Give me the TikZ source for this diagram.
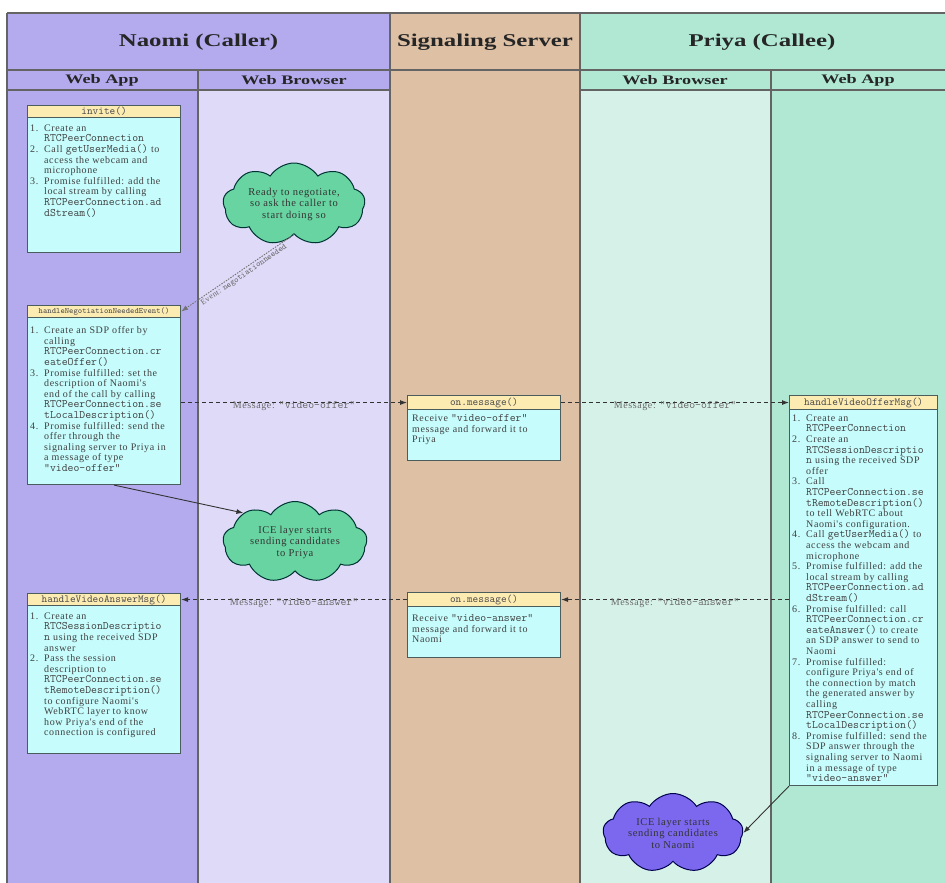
\documentclass[tikz,border=0pt]{standalone}
\usepackage{graphicx}
\usepackage{fontspec}
\setmainfont{Liberation Serif}
\newfontfamily\bodyserif[LetterSpace=6]{Liberation Serif}
\newfontfamily\titlefont{Liberation Serif}
\usetikzlibrary{shapes.symbols,arrows.meta,calc}
\definecolor{naomi}{RGB}{180,171,238}
\definecolor{naomilt}{RGB}{222,218,248}
\definecolor{sig}{RGB}{222,192,164}
\definecolor{priya}{RGB}{176,232,212}
\definecolor{priyalt}{RGB}{214,242,232}
\definecolor{hdr}{RGB}{253,236,178}
\definecolor{bodyc}{RGB}{198,252,252}
\definecolor{boxline}{RGB}{75,92,92}
\definecolor{laneline}{RGB}{100,100,100}
\definecolor{cloudg}{RGB}{104,212,162}
\definecolor{cloudp}{RGB}{123,104,238}
\definecolor{msgc}{RGB}{105,105,105}
\newcommand\cd[1]{{\ttfamily\fontsize{11.4}{10.6}\selectfont #1}}
\newcommand\nitem[2]{\makebox[14pt][l]{#1}#2}
\newcommand\contl[1]{\hspace*{14pt}#1}
\newcommand\ttlx[1]{\scalebox{1.38}[1]{#1}}
\newcommand\subx[1]{\scalebox{1.4}[1]{#1}}
\begin{document}
\begin{tikzpicture}[x=1pt,y=-1pt,
  lanel/.style={draw=laneline, line width=1.3pt},
  title/.style={inner sep=0pt, text=black!85, font={\titlefont\bfseries\fontsize{18}{20}\selectfont}},
  subtitle/.style={inner sep=0pt, text=black!85, font={\titlefont\bfseries\fontsize{13}{15}\selectfont}},
  hbox/.style={draw=boxline, line width=1.1pt, fill=hdr, anchor=north west, inner sep=0pt, text=black!70, font={\ttfamily\fontsize{10.8}{11}\selectfont}},
  bbox/.style={draw=boxline, line width=1.1pt, fill=bodyc, anchor=north west, inner sep=0pt},
  btext/.style={anchor=north west, inner sep=0pt, align=left, text=black!75, font={\bodyserif\fontsize{10}{10.6}\selectfont}},
  cloudst/.style={cloud, cloud puffs=9, cloud puff arc=115, cloud ignores aspect, line width=1pt, align=center, inner sep=0pt, text=black!80, font={\bodyserif\fontsize{10.5}{11.5}\selectfont}},
  msg/.style={draw=black!80, line width=0.9pt, dash pattern=on 4pt off 3pt, -{Latex[length=7pt,width=5pt]}},
  msglab/.style={anchor=north, yshift=2pt, inner sep=0pt, text=msgc, font={\bodyserif\fontsize{10}{11}\selectfont}},
  solidarr/.style={draw=black!80, line width=0.9pt, -{Latex[length=7pt,width=5pt]}},
  evarr/.style={draw=black!55, line width=0.9pt, dash pattern=on 1.5pt off 1.2pt, -{Latex[length=7pt,width=5pt]}}
]
\useasboundingbox (0,0) rectangle (945,883);
\fill[white] (0,0) rectangle (945,883);
% lanes
\fill[naomi] (7,13) rectangle (390,90);
\fill[naomi] (7,90) rectangle (198,890);
\fill[naomilt] (198,90) rectangle (390,890);
\fill[sig] (390,13) rectangle (580,890);
\fill[priya] (580,13) rectangle (945,90);
\fill[priyalt] (580,90) rectangle (771,890);
\fill[priya] (771,90) rectangle (945,890);
\draw[lanel] (7,13) -- (945,13);
\draw[lanel] (7,70) -- (945,70);
\draw[lanel] (7,90) -- (390,90);
\draw[lanel] (580,90) -- (945,90);
\draw[lanel] (7,13) -- (7,890);
\draw[lanel] (198,70) -- (198,890);
\draw[lanel] (390,13) -- (390,890);
\draw[lanel] (580,13) -- (580,890);
\draw[lanel] (771,70) -- (771,890);
% titles
\node[title] (tNaomi) at (198.5,42) {\ttlx{Naomi (Caller)}};
\node[title] (tSig) at (485,42) {\ttlx{Signaling Server}};
\node[title] (tPriya) at (762,42) {\ttlx{Priya (Callee)}};
\node[subtitle] (sNA) at (102,80) {\subx{Web App}};
\node[subtitle] (sNB) at (294,80) {\subx{Web Browser}};
\node[subtitle] (sPB) at (675,80) {\subx{Web Browser}};
\node[subtitle] (sPA) at (858,80) {\subx{Web App}};
% invite box
\node[bbox, minimum width=153pt, minimum height=135pt] (inv) at (27,117) {};
\node[hbox, minimum width=153pt, minimum height=12pt] (invh) at (27,105) {invite()};
\node[btext] (invt) at (30,124.5) {%
\nitem{1.}{Create an}\\
\contl{\cd{RTCPeerConnection}}\\
\nitem{2.}{Call \cd{getUserMedia()} to}\\
\contl{access the webcam and}\\
\contl{microphone}\\
\nitem{3.}{Promise fulfilled: add the}\\
\contl{local stream by calling}\\
\contl{\cd{RTCPeerConnection.ad}}\\
\contl{\cd{dStream()}}};
% negotiation box
\node[bbox, minimum width=153pt, minimum height=167pt] (hnne) at (27,317) {};
\node[hbox, minimum width=153pt, minimum height=12pt, font={\ttfamily\fontsize{8.2}{9}\selectfont}] (hnneh) at (27,305) {handleNegotiationNeededEvent()};
\node[btext] (hnnet) at (30,326.5) {%
\nitem{1.}{Create an SDP offer by}\\
\contl{calling}\\
\contl{\cd{RTCPeerConnection.cr}}\\
\contl{\cd{eateOffer()}}\\
\nitem{3.}{Promise fulfilled: set the}\\
\contl{description of Naomi's}\\
\contl{end of the call by calling}\\
\contl{\cd{RTCPeerConnection.se}}\\
\contl{\cd{tLocalDescription()}}\\
\nitem{4.}{Promise fulfilled: send the}\\
\contl{offer through the}\\
\contl{signaling server to Priya in}\\
\contl{a message of type}\\
\contl{\cd{"video-offer"}}};
% answer box (Naomi)
\node[bbox, minimum width=153pt, minimum height=148pt] (hvam) at (27,605) {};
\node[hbox, minimum width=153pt, minimum height=12pt] (hvamh) at (27,593) {handleVideoAnswerMsg()};
\node[btext] (hvamt) at (30,612.5) {%
\nitem{1.}{Create an}\\
\contl{\cd{RTCSessionDescriptio}}\\
\contl{\cd{n} using the received SDP}\\
\contl{answer}\\
\nitem{2.}{Pass the session}\\
\contl{description to}\\
\contl{\cd{RTCPeerConnection.se}}\\
\contl{\cd{tRemoteDescription()}}\\
\contl{to configure Naomi's}\\
\contl{WebRTC layer to know}\\
\contl{how Priya's end of the}\\
\contl{connection is configured}};
% on.message boxes
\node[bbox, minimum width=153pt, minimum height=51pt] (om1) at (407,409) {};
\node[hbox, minimum width=153pt, minimum height=14pt] (om1h) at (407,395) {on.message()};
\node[btext] (om1t) at (412,414.5) {%
Receive \cd{"video-offer"}\\
message and forward it to\\
Priya};
\node[bbox, minimum width=153pt, minimum height=51pt] (om2) at (407,606) {};
\node[hbox, minimum width=153pt, minimum height=14pt] (om2h) at (407,592) {on.message()};
\node[btext] (om2t) at (412,614.5) {%
Receive \cd{"video-answer"}\\
message and forward it to\\
Naomi};
% offer handler box (Priya)
\node[bbox, minimum width=148pt, minimum height=376pt] (hvom) at (789,409) {};
\node[hbox, minimum width=148pt, minimum height=14pt] (hvomh) at (789,395) {handleVideoOfferMsg()};
\node[btext] (hvomt) at (792,414.5) {%
\nitem{1.}{Create an}\\
\contl{\cd{RTCPeerConnection}}\\
\nitem{2.}{Create an}\\
\contl{\cd{RTCSessionDescriptio}}\\
\contl{\cd{n} using the received SDP}\\
\contl{offer}\\
\nitem{3.}{Call}\\
\contl{\cd{RTCPeerConnection.se}}\\
\contl{\cd{tRemoteDescription()}}\\
\contl{to tell WebRTC about}\\
\contl{Naomi's configuration.}\\
\nitem{4.}{Call \cd{getUserMedia()} to}\\
\contl{access the webcam and}\\
\contl{microphone}\\
\nitem{5.}{Promise fulfilled: add the}\\
\contl{local stream by calling}\\
\contl{\cd{RTCPeerConnection.ad}}\\
\contl{\cd{dStream()}}\\
\nitem{6.}{Promise fulfilled: call}\\
\contl{\cd{RTCPeerConnection.cr}}\\
\contl{\cd{eateAnswer()} to create}\\
\contl{an SDP answer to send to}\\
\contl{Naomi}\\
\nitem{7.}{Promise fulfilled:}\\
\contl{configure Priya's end of}\\
\contl{the connection by match}\\
\contl{the generated answer by}\\
\contl{calling}\\
\contl{\cd{RTCPeerConnection.se}}\\
\contl{\cd{tLocalDescription()}}\\
\nitem{8.}{Promise fulfilled: send the}\\
\contl{SDP answer through the}\\
\contl{signaling server to Naomi}\\
\contl{in a message of type}\\
\contl{\cd{"video-answer"}}};
% clouds
\node[cloudst, fill=cloudg, draw=black!60!teal, minimum width=142pt, minimum height=82pt] (ready) at (294,204) {Ready to negotiate,\\so ask the caller to\\start doing so};
\node[cloudst, fill=cloudg, draw=black!60!teal, minimum width=144pt, minimum height=81pt] (ice1) at (295,542) {ICE layer starts\\sending candidates\\to Priya};
\node[cloudst, fill=cloudp, draw=black!70!blue, minimum width=140pt, minimum height=79pt] (ice2) at (673,833) {ICE layer starts\\sending candidates\\to Naomi};
% connectors
\draw[evarr] (ready.south) -- node[sloped, below, pos=0.47, inner sep=1.5pt, text=msgc, font={\bodyserif\fontsize{8}{9}\selectfont}] {Event:\kern3pt{\ttfamily\fontsize{8.5}{9}\selectfont negotiationneeded}} (hnneh.east);
\draw[msg] (om1h.west -| hnne.east) -- node[msglab] {Message: \cd{"video-offer"}} (om1h.west);
\draw[msg] (om1h.east) -- node[msglab] {Message: \cd{"video-offer"}} (hvomh.west);
\draw[msg] (om2h.east -| hvom.west) -- node[msglab] {Message: \cd{"video-answer"}} (om2h.east);
\draw[msg] (om2h.west) -- node[msglab] {Message: \cd{"video-answer"}} (hvamh.east);
\draw[solidarr] ([xshift=10pt]hnne.south) -- (ice1.north west);
\draw[solidarr] (hvom.south west) -- (ice2.east);
\end{tikzpicture}
\end{document}
